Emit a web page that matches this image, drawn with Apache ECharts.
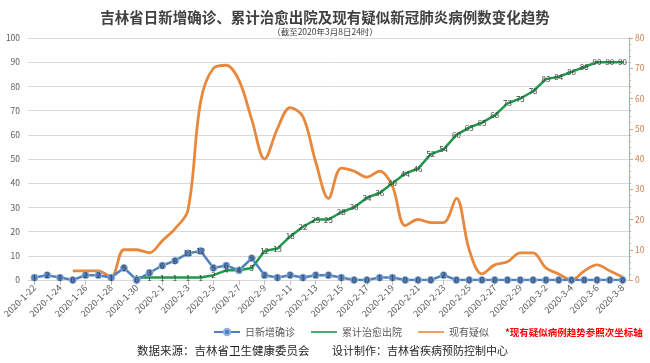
<!DOCTYPE html>
<html><head><meta charset="utf-8">
<script src="https://cdn.jsdelivr.net/npm/echarts@6/dist/echarts.min.js"></script>
<style>html,body{margin:0;padding:0;background:#fff}#c{width:650px;height:363px}</style>
</head><body><div id="c"></div>
<script>
const dates = ['2020-1-22','2020-1-23','2020-1-24','2020-1-25','2020-1-26','2020-1-27','2020-1-28','2020-1-29','2020-1-30','2020-1-31',
'2020-2-1','2020-2-2','2020-2-3','2020-2-4','2020-2-5','2020-2-6','2020-2-7','2020-2-8','2020-2-9','2020-2-10',
'2020-2-11','2020-2-12','2020-2-13','2020-2-14','2020-2-15','2020-2-16','2020-2-17','2020-2-18','2020-2-19','2020-2-20',
'2020-2-21','2020-2-22','2020-2-23','2020-2-24','2020-2-25','2020-2-26','2020-2-27','2020-2-28','2020-2-29',
'2020-3-1','2020-3-2','2020-3-3','2020-3-4','2020-3-5','2020-3-6','2020-3-7','2020-3-8'];
const dailyConfirmed = [1,2,1,0,2,2,1,5,0,3,
6,8,11,12,5,6,4,9,2,1,2,1,2,2,1,0,0,1,1,0,0,0,2,0,0,0,0,0,0,
0,0,0,0,0,0,0,0];
const cumDischarged = [null,null,null,null,null,null,null,null,1,1,
1,1,1,1,2,4,4,5,12,13,18,22,25,25,28,30,34,36,40,44,46,52,54,60,63,65,68,73,75,
78,83,84,86,88,90,90,90];
const suspected = [null,null,null,3,3,3,1,10,10,9,
13,17,23,59,70,71,66,53,40,50,57,54,39,27,37,36,34,36,31,18,20,19,19,27,10,2,5,6,9,
9,4,2,0,3,5,3,1];
const leftTicks = {min:0,max:100,interval:10};
const rightTicks = {min:0,max:80,interval:10};
const titleText = '吉林省日新增确诊、累计治愈出院及现有疑似新冠肺炎病例数变化趋势';
const subText = '（截至2020年3月8日24时）';
const seriesNames = ['日新增确诊','累计治愈出院','现有疑似'];
const noteText = '*现有疑似病例趋势参照次坐标轴';
const sourceText = '数据来源：吉林省卫生健康委员会';
const designText = '设计制作：吉林省疾病预防控制中心';

const FF = '"Noto Sans CJK SC","Microsoft YaHei",sans-serif';
const lineIcon = 'path://M0,0 L0,0 M0,3.2 L26,3.2 L26,4.8 L0,4.8 Z M26,8 L26,8';
const chart = echarts.init(document.getElementById('c'));
const lbl = {show:true, position:'inside', fontSize:8, color:'#404040', fontFamily:FF};
chart.setOption({
  animation:false,
  textStyle:{fontFamily:FF},
  title:{text:titleText, subtext:subText, left:'center', top:5, itemGap:3,
    textStyle:{fontSize:14.5, fontWeight:'bold', color:'#404040', fontFamily:FF},
    subtextStyle:{fontSize:8.5, color:'#404040', fontFamily:FF}},
  legend:{bottom:21, left:208, itemWidth:26, itemHeight:8, itemGap:16,
    textStyle:{fontSize:10, color:'#595959', fontFamily:FF},
    data:[{name:seriesNames[0]}, {name:seriesNames[1], icon:lineIcon}, {name:seriesNames[2], icon:lineIcon}]},
  grid:{left:28, right:21, top:38, bottom:83},
  xAxis:{type:'category', data:dates, boundaryGap:true,
    axisLine:{lineStyle:{color:'#d9d9d9'}},
    axisTick:{show:true, interval:1, alignWithLabel:true, lineStyle:{color:'#bfbfbf'}},
    axisLabel:{interval:1, rotate:45, fontSize:9, color:'#595959', margin:6, fontFamily:FF}},
  yAxis:[
    {type:'value', min:leftTicks.min, max:leftTicks.max, interval:leftTicks.interval,
     axisLine:{show:false}, axisTick:{show:false},
     axisLabel:{fontSize:8.5, color:'#595959', margin:8},
     splitLine:{lineStyle:{color:'#d9d9d9'}}},
    {type:'value', min:rightTicks.min, max:rightTicks.max, interval:rightTicks.interval,
     axisLine:{show:true, lineStyle:{color:'#e8a06a'}},
     axisTick:{show:true, length:4, lineStyle:{color:'#e8a06a'}},
     minorTick:{show:true, splitNumber:5, length:2, lineStyle:{color:'#e8a06a'}},
     axisLabel:{fontSize:8.5, color:'#c8814f', margin:6},
     splitLine:{show:false}}
  ],
  series:[
    {name:seriesNames[0], type:'line', data:dailyConfirmed, yAxisIndex:0, z:4,
     symbol:'circle', symbolSize:7,
     lineStyle:{color:'#4f81bd', width:2.5},
     itemStyle:{color:'#4f7fbe', borderColor:'#8fb1dc', borderWidth:1},
     label:lbl},
    {name:seriesNames[1], type:'line', data:cumDischarged, yAxisIndex:0, z:3,
     symbol:'circle', symbolSize:2, showSymbol:true,
     lineStyle:{color:'#1f9a4a', width:2.5},
     itemStyle:{color:'#1f9a4a'},
     label:lbl},
    {name:seriesNames[2], type:'line', data:suspected, yAxisIndex:1, z:2,
     symbol:'none', smooth:0.35,
     lineStyle:{color:'#e8883c', width:2.8},
     itemStyle:{color:'#e8883c'}}
  ],
  graphic:[
    {type:'text', left:505, top:328, style:{text:noteText, fontSize:9.5, fontWeight:'bold', fill:'#ff0000', fontFamily:FF}},
    {type:'text', left:137, top:345, style:{text:sourceText, fontSize:11.5, fill:'#262626', fontFamily:FF}},
    {type:'text', left:332, top:345, style:{text:designText, fontSize:11, fill:'#262626', fontFamily:FF}}
  ]
});
</script></body></html>
